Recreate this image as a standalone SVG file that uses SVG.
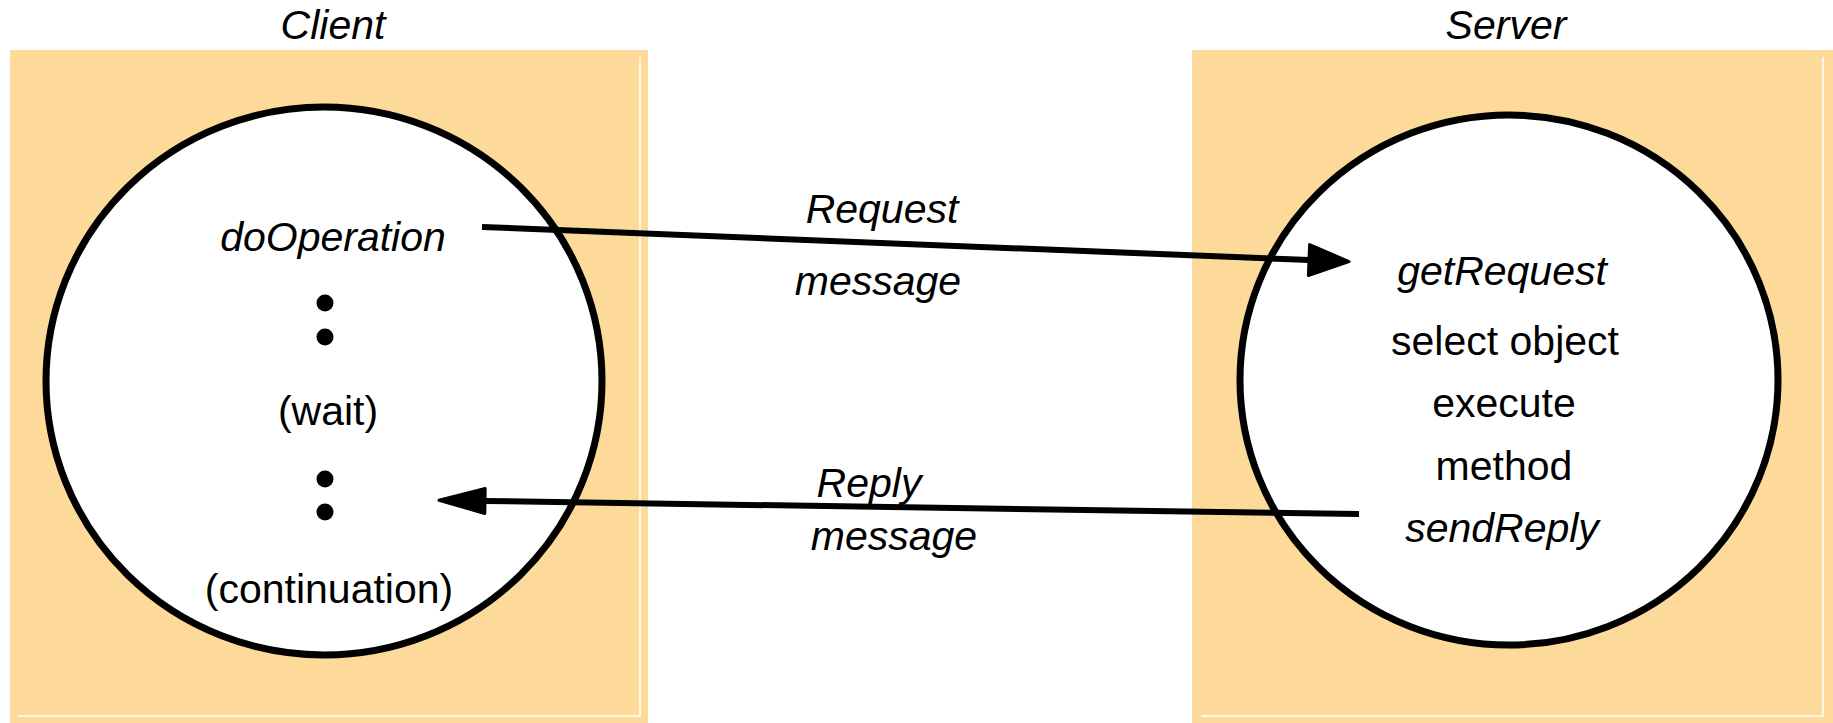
<svg xmlns="http://www.w3.org/2000/svg" width="1833" height="723" viewBox="0 0 1833 723">
<style>
.panel{fill:#FDDA99;stroke:none}
.inset{fill:none;stroke:#ffffff;stroke-width:1.5}
.proc{fill:#ffffff;stroke:#000000;stroke-width:7}
.t{font-family:"Liberation Sans",Arial,Helvetica,sans-serif;font-size:41px;fill:#000000;text-anchor:middle}
.i{font-style:italic}
.conn{stroke:#000000;stroke-width:6;fill:none}
.head{fill:#000000;stroke:#000000;stroke-width:3;stroke-linejoin:round}
</style>
<defs>
<marker id="reqHead" markerUnits="userSpaceOnUse" orient="auto" refX="1.5" refY="0" markerWidth="60" markerHeight="40" overflow="visible">
<path class="head" d="M1.5,-15.5 L41.5,0 L1.5,15.5 Z"/>
</marker>
<marker id="repHead" markerUnits="userSpaceOnUse" orient="auto" refX="1.5" refY="0" markerWidth="60" markerHeight="40" overflow="visible">
<path class="head" d="M1.5,-12.5 L47.5,0 L1.5,12.5 Z"/>
</marker>
</defs>
<g id="client">
<rect class="panel" x="10" y="50" width="638" height="673"/>
<polyline class="inset" points="18,716 640,716 640,57"/>
<text class="t i" x="333" y="39">Client</text>
<ellipse class="proc" cx="324" cy="381" rx="278" ry="274"/>
<text class="t i" x="333" y="251">doOperation</text>
<circle cx="325" cy="303" r="8.5"/>
<circle cx="325" cy="337" r="8.5"/>
<text class="t" x="328" y="425">(wait)</text>
<circle cx="325" cy="479" r="8.5"/>
<circle cx="325" cy="512" r="8.5"/>
<text class="t" x="329" y="603">(continuation)</text>
</g>
<g id="server">
<rect class="panel" x="1192" y="50" width="641" height="673"/>
<polyline class="inset" points="1201,716 1823,716 1823,57"/>
<text class="t i" x="1506" y="39">Server</text>
<ellipse class="proc" cx="1509" cy="380" rx="269" ry="265"/>
<text class="t i" x="1502" y="285">getRequest</text>
<text class="t" x="1505" y="355">select object</text>
<text class="t" x="1504" y="417">execute</text>
<text class="t" x="1504" y="480">method</text>
<text class="t i" x="1502" y="542">sendReply</text>
</g>
<g id="connectors">
<line class="conn" x1="482" y1="227" x2="1309" y2="260" marker-end="url(#reqHead)"/>
<text class="t i" x="882" y="223">Request</text>
<text class="t i" x="878" y="295">message</text>
<line class="conn" x1="1359" y1="514" x2="485" y2="501" marker-end="url(#repHead)"/>
<text class="t i" x="869" y="497">Reply</text>
<text class="t i" x="894" y="550">message</text>
</g>
</svg>
